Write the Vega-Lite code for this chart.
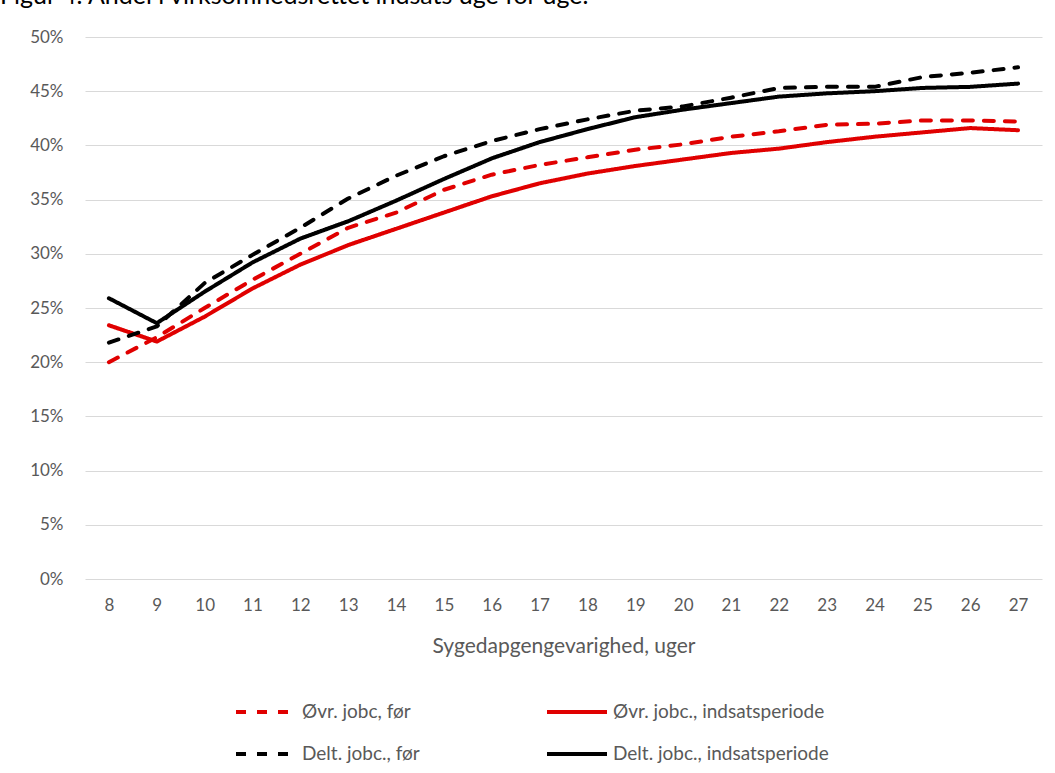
{
  "$schema": "https://vega.github.io/schema/vega-lite/v6.json",
  "width": 957,
  "height": 542,
  "autosize": {"type": "none"},
  "padding": {"left": 85, "top": 37, "right": 13, "bottom": 194},
  "background": "white",
  "title": {
    "text": "Figur 4. Andel i virksomhedsrettet indsats uge for uge.",
    "anchor": "start",
    "frame": "group",
    "orient": "top",
    "baseline": "alphabetic",
    "offset": 0,
    "dx": -85,
    "dy": 1,
    "font": "Lato",
    "fontSize": 25,
    "fontWeight": "normal",
    "color": "#000000"
  },
  "config": {
    "view": {"stroke": null},
    "font": "Lato"
  },
  "data": {
    "values": [
      {"week": 8, "series": "Øvr. jobc, før", "value": 20.0},
      {"week": 9, "series": "Øvr. jobc, før", "value": 22.3},
      {"week": 10, "series": "Øvr. jobc, før", "value": 25.0},
      {"week": 11, "series": "Øvr. jobc, før", "value": 27.6},
      {"week": 12, "series": "Øvr. jobc, før", "value": 30.0},
      {"week": 13, "series": "Øvr. jobc, før", "value": 32.4},
      {"week": 14, "series": "Øvr. jobc, før", "value": 33.8},
      {"week": 15, "series": "Øvr. jobc, før", "value": 35.9},
      {"week": 16, "series": "Øvr. jobc, før", "value": 37.3},
      {"week": 17, "series": "Øvr. jobc, før", "value": 38.2},
      {"week": 18, "series": "Øvr. jobc, før", "value": 38.9},
      {"week": 19, "series": "Øvr. jobc, før", "value": 39.6},
      {"week": 20, "series": "Øvr. jobc, før", "value": 40.1},
      {"week": 21, "series": "Øvr. jobc, før", "value": 40.8},
      {"week": 22, "series": "Øvr. jobc, før", "value": 41.3},
      {"week": 23, "series": "Øvr. jobc, før", "value": 41.9},
      {"week": 24, "series": "Øvr. jobc, før", "value": 42.0},
      {"week": 25, "series": "Øvr. jobc, før", "value": 42.3},
      {"week": 26, "series": "Øvr. jobc, før", "value": 42.3},
      {"week": 27, "series": "Øvr. jobc, før", "value": 42.2},
      {"week": 8, "series": "Øvr. jobc., indsatsperiode", "value": 23.4},
      {"week": 9, "series": "Øvr. jobc., indsatsperiode", "value": 21.9},
      {"week": 10, "series": "Øvr. jobc., indsatsperiode", "value": 24.2},
      {"week": 11, "series": "Øvr. jobc., indsatsperiode", "value": 26.8},
      {"week": 12, "series": "Øvr. jobc., indsatsperiode", "value": 29.0},
      {"week": 13, "series": "Øvr. jobc., indsatsperiode", "value": 30.8},
      {"week": 14, "series": "Øvr. jobc., indsatsperiode", "value": 32.3},
      {"week": 15, "series": "Øvr. jobc., indsatsperiode", "value": 33.8},
      {"week": 16, "series": "Øvr. jobc., indsatsperiode", "value": 35.3},
      {"week": 17, "series": "Øvr. jobc., indsatsperiode", "value": 36.5},
      {"week": 18, "series": "Øvr. jobc., indsatsperiode", "value": 37.4},
      {"week": 19, "series": "Øvr. jobc., indsatsperiode", "value": 38.1},
      {"week": 20, "series": "Øvr. jobc., indsatsperiode", "value": 38.7},
      {"week": 21, "series": "Øvr. jobc., indsatsperiode", "value": 39.3},
      {"week": 22, "series": "Øvr. jobc., indsatsperiode", "value": 39.7},
      {"week": 23, "series": "Øvr. jobc., indsatsperiode", "value": 40.3},
      {"week": 24, "series": "Øvr. jobc., indsatsperiode", "value": 40.8},
      {"week": 25, "series": "Øvr. jobc., indsatsperiode", "value": 41.2},
      {"week": 26, "series": "Øvr. jobc., indsatsperiode", "value": 41.6},
      {"week": 27, "series": "Øvr. jobc., indsatsperiode", "value": 41.4},
      {"week": 8, "series": "Delt. jobc., før", "value": 21.8},
      {"week": 9, "series": "Delt. jobc., før", "value": 23.3},
      {"week": 10, "series": "Delt. jobc., før", "value": 27.3},
      {"week": 11, "series": "Delt. jobc., før", "value": 29.9},
      {"week": 12, "series": "Delt. jobc., før", "value": 32.4},
      {"week": 13, "series": "Delt. jobc., før", "value": 35.1},
      {"week": 14, "series": "Delt. jobc., før", "value": 37.2},
      {"week": 15, "series": "Delt. jobc., før", "value": 39.0},
      {"week": 16, "series": "Delt. jobc., før", "value": 40.4},
      {"week": 17, "series": "Delt. jobc., før", "value": 41.5},
      {"week": 18, "series": "Delt. jobc., før", "value": 42.4},
      {"week": 19, "series": "Delt. jobc., før", "value": 43.2},
      {"week": 20, "series": "Delt. jobc., før", "value": 43.6},
      {"week": 21, "series": "Delt. jobc., før", "value": 44.4},
      {"week": 22, "series": "Delt. jobc., før", "value": 45.3},
      {"week": 23, "series": "Delt. jobc., før", "value": 45.4},
      {"week": 24, "series": "Delt. jobc., før", "value": 45.4},
      {"week": 25, "series": "Delt. jobc., før", "value": 46.3},
      {"week": 26, "series": "Delt. jobc., før", "value": 46.7},
      {"week": 27, "series": "Delt. jobc., før", "value": 47.2},
      {"week": 8, "series": "Delt. jobc., indsatsperiode", "value": 25.9},
      {"week": 9, "series": "Delt. jobc., indsatsperiode", "value": 23.6},
      {"week": 10, "series": "Delt. jobc., indsatsperiode", "value": 26.5},
      {"week": 11, "series": "Delt. jobc., indsatsperiode", "value": 29.2},
      {"week": 12, "series": "Delt. jobc., indsatsperiode", "value": 31.4},
      {"week": 13, "series": "Delt. jobc., indsatsperiode", "value": 33.0},
      {"week": 14, "series": "Delt. jobc., indsatsperiode", "value": 34.9},
      {"week": 15, "series": "Delt. jobc., indsatsperiode", "value": 36.9},
      {"week": 16, "series": "Delt. jobc., indsatsperiode", "value": 38.8},
      {"week": 17, "series": "Delt. jobc., indsatsperiode", "value": 40.3},
      {"week": 18, "series": "Delt. jobc., indsatsperiode", "value": 41.5},
      {"week": 19, "series": "Delt. jobc., indsatsperiode", "value": 42.6},
      {"week": 20, "series": "Delt. jobc., indsatsperiode", "value": 43.3},
      {"week": 21, "series": "Delt. jobc., indsatsperiode", "value": 43.9},
      {"week": 22, "series": "Delt. jobc., indsatsperiode", "value": 44.5},
      {"week": 23, "series": "Delt. jobc., indsatsperiode", "value": 44.8},
      {"week": 24, "series": "Delt. jobc., indsatsperiode", "value": 45.0},
      {"week": 25, "series": "Delt. jobc., indsatsperiode", "value": 45.3},
      {"week": 26, "series": "Delt. jobc., indsatsperiode", "value": 45.4},
      {"week": 27, "series": "Delt. jobc., indsatsperiode", "value": 45.7}
    ]
  },
  "mark": {"type": "line", "strokeWidth": 4, "strokeCap": "round", "strokeJoin": "round"},
  "encoding": {
    "x": {
      "field": "week",
      "type": "ordinal",
      "scale": {"type": "point", "padding": 0.5},
      "axis": {
        "title": "Sygedapgengevarighed, uger",
        "titleFont": "Lato",
        "titleFontSize": 21,
        "titleFontWeight": "normal",
        "titleColor": "#595959",
        "titlePadding": 22,
        "labelAngle": 0,
        "labelFont": "Lato",
        "labelFontSize": 17,
        "labelColor": "#595959",
        "labelPadding": 18,
        "ticks": false,
        "grid": false,
        "domain": false
      }
    },
    "y": {
      "field": "value",
      "type": "quantitative",
      "scale": {"domain": [0, 50], "nice": false, "zero": true},
      "axis": {
        "title": null,
        "values": [0, 5, 10, 15, 20, 25, 30, 35, 40, 45, 50],
        "labelExpr": "datum.value + '%'",
        "labelFont": "Lato",
        "labelFontSize": 17,
        "labelColor": "#595959",
        "labelPadding": 22,
        "ticks": false,
        "domain": false,
        "grid": true,
        "gridColor": "#d9d9d9",
        "gridWidth": 1.2
      }
    },
    "color": {
      "field": "series",
      "type": "nominal",
      "scale": {
        "domain": ["Øvr. jobc, før", "Øvr. jobc., indsatsperiode", "Delt. jobc., før", "Delt. jobc., indsatsperiode"],
        "range": ["#E00000", "#E00000", "#000000", "#000000"]
      },
      "legend": {
        "title": null,
        "orient": "none",
        "legendX": 149,
        "legendY": 643,
        "direction": "horizontal",
        "columns": 2,
        "columnPadding": 119,
        "rowPadding": 0,
        "symbolType": "stroke",
        "symbolSize": 3600,
        "symbolStrokeWidth": 4,
        "labelFont": "Lato",
        "labelFontSize": 19,
        "labelColor": "#595959",
        "labelOffset": 4,
        "labelLimit": 400
      }
    },
    "strokeDash": {
      "field": "series",
      "type": "nominal",
      "scale": {
        "domain": ["Øvr. jobc, før", "Øvr. jobc., indsatsperiode", "Delt. jobc., før", "Delt. jobc., indsatsperiode"],
        "range": [[10, 11], [1, 0], [10, 11], [1, 0]]
      },
      "legend": {
        "title": null,
        "orient": "none",
        "legendX": 149,
        "legendY": 643,
        "direction": "horizontal",
        "columns": 2,
        "columnPadding": 119,
        "rowPadding": 0,
        "symbolType": "stroke",
        "symbolSize": 3600,
        "symbolStrokeWidth": 4,
        "labelFont": "Lato",
        "labelFontSize": 19,
        "labelColor": "#595959",
        "labelOffset": 4,
        "labelLimit": 400
      }
    }
  }
}
